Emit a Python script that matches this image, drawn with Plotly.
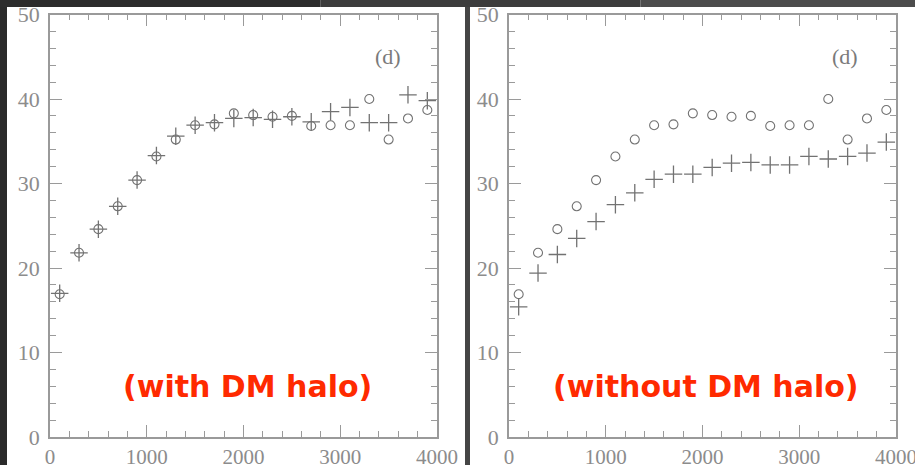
import plotly.graph_objects as go

# Radius bins (pc) shared by both panels
radius = [100, 300, 500, 700, 900, 1100, 1300, 1500, 1700, 1900,
          2100, 2300, 2500, 2700, 2900, 3100, 3300, 3500, 3700, 3900]

# Open circles: same series in both panels
circles = [16.9, 21.8, 24.6, 27.3, 30.4, 33.2, 35.2, 36.9, 37.0, 38.3,
           38.1, 37.9, 38.0, 36.8, 36.9, 36.9, 40.0, 35.2, 37.7, 38.7]

# Crosses with the dark-matter halo
plus_halo = [17.0, 21.8, 24.6, 27.3, 30.4, 33.3, 35.6, 36.9, 37.2, 37.7,
             37.8, 37.6, 37.9, 37.3, 38.5, 39.0, 37.2, 37.2, 40.5, 39.8]

# Crosses without the dark-matter halo
plus_nohalo = [15.4, 19.4, 21.6, 23.5, 25.5, 27.5, 28.9, 30.5, 31.1, 31.1,
               31.9, 32.4, 32.5, 32.2, 32.2, 33.2, 32.9, 33.2, 33.6, 34.9]

panel_labels = ["(with DM halo)", "(without DM halo)"]
x_ticks = [0, 1000, 2000, 3000, 4000]
y_ticks = [0, 10, 20, 30, 40, 50]

W, H = 915, 465
AXIS_GREY = "#9a9a9a"
MARK_GREY = "#727272"
LABEL_GREY = "#8c8c8c"

fig = go.Figure()

panels = [
    dict(xa="x", ya="y", plus=plus_halo),
    dict(xa="x2", ya="y2", plus=plus_nohalo),
]
for p in panels:
    fig.add_trace(go.Scatter(
        x=radius, y=circles, xaxis=p["xa"], yaxis=p["ya"], mode="markers",
        marker=dict(symbol="circle-open", size=9, color=MARK_GREY,
                    line=dict(width=1.1, color=MARK_GREY)),
        showlegend=False, cliponaxis=False))
    fig.add_trace(go.Scatter(
        x=radius, y=p["plus"], xaxis=p["xa"], yaxis=p["ya"], mode="markers",
        marker=dict(symbol="cross-thin-open", size=12.5, color=MARK_GREY,
                    line=dict(width=1.3, color=MARK_GREY)),
        showlegend=False, cliponaxis=False))

ydom = [(H - 437) / H, (H - 14.5) / H]
xdoms = [[50 / W, 437 / W], [509 / W, 896 / W]]

SERIF = "Liberation Serif, Times New Roman, serif"

def xaxis_cfg(dom, anchor):
    return dict(domain=dom, anchor=anchor, range=[0, 4000], tickvals=x_ticks,
                ticks="inside", ticklen=12, tickwidth=1.3, tickcolor=AXIS_GREY,
                minor=dict(dtick=200, ticks="inside", ticklen=6, tickwidth=1.2,
                           tickcolor=AXIS_GREY, showgrid=False),
                showline=True, linecolor=AXIS_GREY, linewidth=1.6, mirror="allticks",
                showgrid=False, zeroline=False,
                tickfont=dict(family=SERIF, size=21, color=LABEL_GREY),
                ticklabelstandoff=0, ticklabeloverflow="allow", automargin=False)

def yaxis_cfg(anchor):
    return dict(domain=ydom, anchor=anchor, range=[0, 50], tickvals=y_ticks,
                ticks="inside", ticklen=12, tickwidth=1.3, tickcolor=AXIS_GREY,
                minor=dict(dtick=2, ticks="inside", ticklen=6, tickwidth=1.2,
                           tickcolor=AXIS_GREY, showgrid=False),
                showline=True, linecolor=AXIS_GREY, linewidth=1.6, mirror="allticks",
                showgrid=False, zeroline=False,
                tickfont=dict(family=SERIF, size=22, color=LABEL_GREY),
                ticklabelstandoff=4, ticklabeloverflow="allow", automargin=False)

shapes = [
    # white page of each panel
    dict(type="rect", xref="paper", yref="paper", x0=7 / W, x1=465 / W, y0=0, y1=1,
         fillcolor="white", line_width=0, layer="below"),
    dict(type="rect", xref="paper", yref="paper", x0=470 / W, x1=1, y0=0, y1=1,
         fillcolor="white", line_width=0, layer="below"),
    # dark frame drawn on top so it trims labels at the panel edges
    dict(type="rect", xref="paper", yref="paper", x0=0, x1=7 / W, y0=0, y1=1,
         fillcolor="#2a2a2a", line_width=0, layer="above"),
    dict(type="rect", xref="paper", yref="paper", x0=465 / W, x1=470 / W, y0=0, y1=1,
         fillcolor="#454545", line_width=0, layer="above"),
    dict(type="rect", xref="paper", yref="paper", x0=0, x1=0.35, y0=(H - 7) / H, y1=1,
         fillcolor="#2c2c2c", line_width=0, layer="above"),
    dict(type="rect", xref="paper", yref="paper", x0=0.35, x1=0.7, y0=(H - 7) / H, y1=1,
         fillcolor="#3c3c3c", line_width=0, layer="above"),
    dict(type="rect", xref="paper", yref="paper", x0=0.7, x1=1, y0=(H - 7) / H, y1=1,
         fillcolor="#4c4c4c", line_width=0, layer="above"),
]

annotations = []
for cx in (388, 845):
    annotations.append(dict(
        xref="paper", yref="paper", x=cx / W, y=(H - 57) / H, text="(d)", showarrow=False,
        font=dict(family=SERIF, size=22, color="#7a7a7a"),
        xanchor="center", yanchor="middle"))
for cx, label in [(247, panel_labels[0]), (706, panel_labels[1])]:
    annotations.append(dict(
        xref="paper", yref="paper", x=cx / W, y=(H - 386) / H, text=label,
        showarrow=False, xanchor="center", yanchor="middle",
        font=dict(family="DejaVu Sans, sans-serif", size=30, color="#ff2a00", weight="bold")))

fig.update_layout(
    width=W, height=H, margin=dict(l=0, r=0, t=0, b=0, autoexpand=False),
    paper_bgcolor="#333333", plot_bgcolor="rgba(0,0,0,0)",
    xaxis=xaxis_cfg(xdoms[0], "y"), yaxis=yaxis_cfg("x"),
    xaxis2=xaxis_cfg(xdoms[1], "y2"), yaxis2=yaxis_cfg("x2"),
    shapes=shapes, annotations=annotations,
)

fig.write_html("out.html")
